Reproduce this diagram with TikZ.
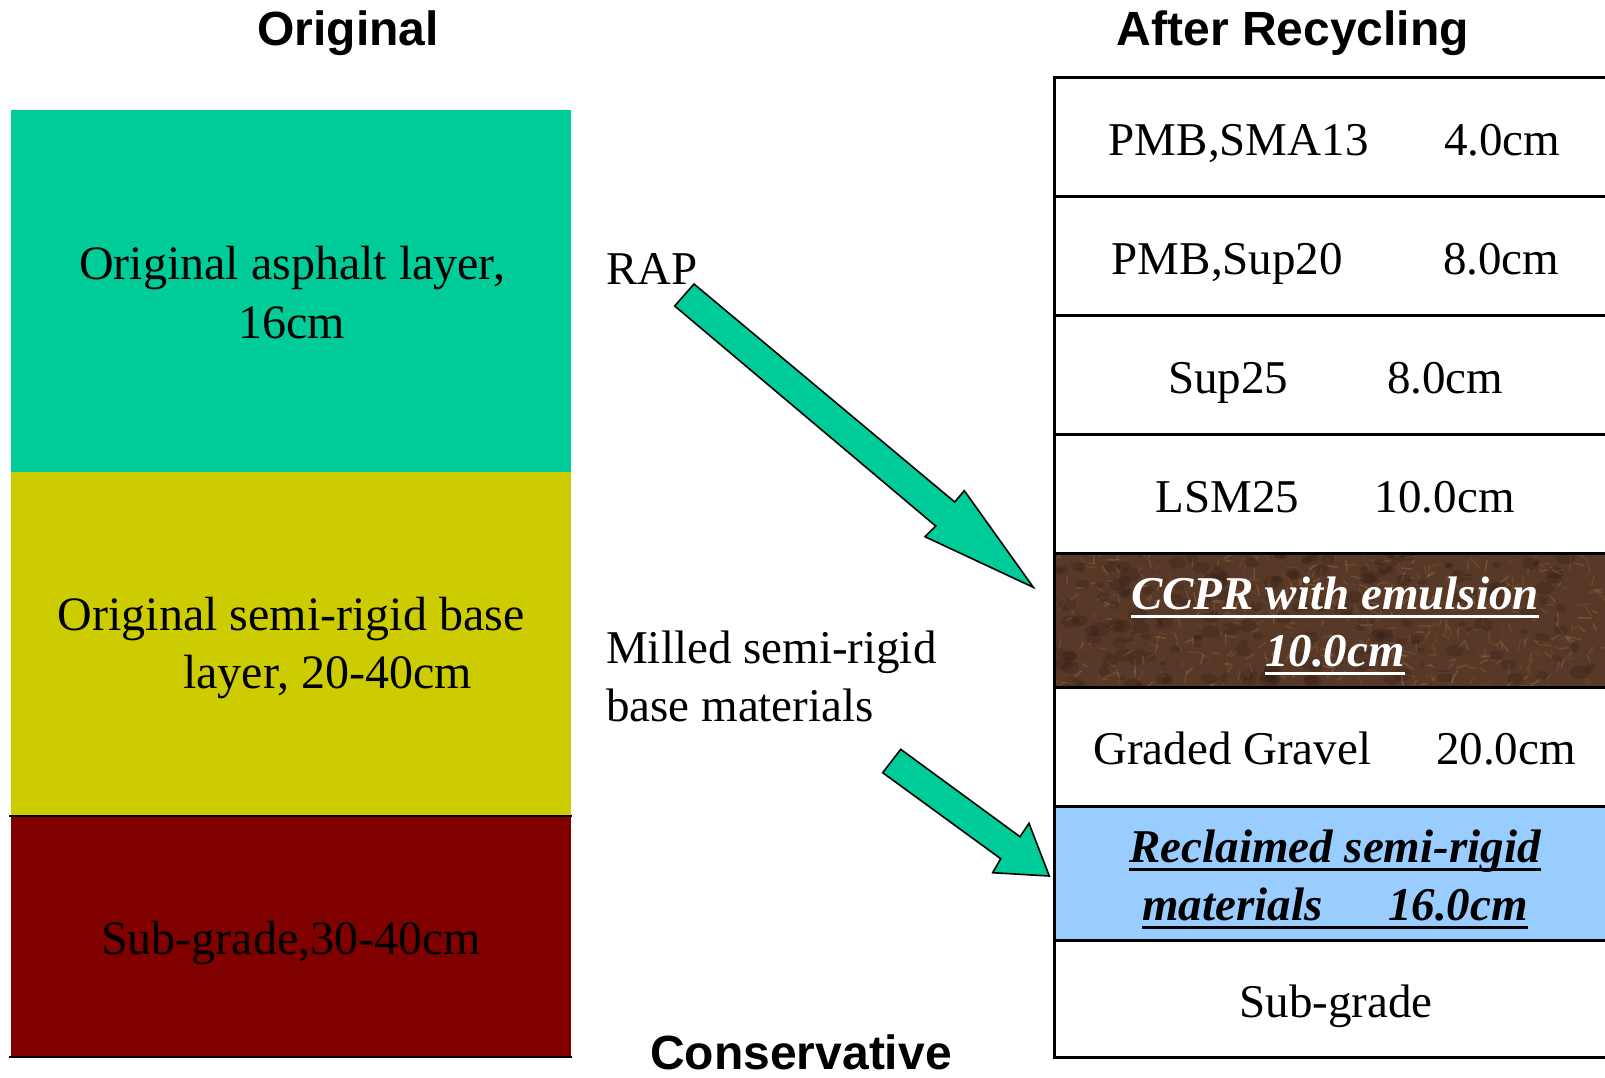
\documentclass[tikz,border=0pt]{standalone}
\usepackage{fontspec}
\setmainfont{Liberation Serif}
\newfontfamily\hdrfont{Liberation Sans}
\definecolor{tealc}{RGB}{0,204,153}
\definecolor{yelc}{RGB}{204,204,0}
\definecolor{marc}{RGB}{128,0,0}
\definecolor{bluec}{RGB}{153,204,255}
\definecolor{brownbase}{RGB}{88,56,38}
\definecolor{browntan}{RGB}{165,125,80}
\definecolor{browndark}{RGB}{50,30,22}
\newsavebox{\ulbox}
\newcommand{\myul}[1]{\sbox{\ulbox}{#1}\rlap{\raisebox{-9pt}{\rule{\wd\ulbox}{3pt}}}\usebox{\ulbox}}
\begin{document}
\begin{tikzpicture}[x=1pt,y=-1pt,
  txt/.style={inner sep=0pt,font=\fontsize{47}{57}\selectfont},
  ltxt/.style={inner sep=0pt,font=\fontsize{48}{57}\selectfont},
  hdr/.style={inner sep=0pt,font=\hdrfont\bfseries\fontsize{48}{57}\selectfont},
  rowline/.style={line width=3pt},
  bigarrow/.style={fill=tealc,draw=black,line width=1.6pt,line join=miter}]
\useasboundingbox (0,0) rectangle (1605,1077);
% ---------- headers ----------
\node[hdr,anchor=base] (h1) at (348,45) {Original};
\node[hdr,anchor=base] (h2) at (1293,45) {After Recycling};
\node[hdr,anchor=base] (h3) at (801,1069.5) {Conservative};
% ---------- left column ----------
\fill[tealc] (11,110) rectangle (571,472);
\fill[yelc] (11,472) rectangle (571,816);
\fill[marc] (11,816) rectangle (571,1057);
\draw[line width=2.5pt] (9,816) -- (572,816);
\draw[line width=2.5pt] (9,1057) -- (572,1057);
\node[ltxt,anchor=base] (l1a) at (292,279.5) {Original asphalt layer,};
\node[ltxt,anchor=base] (l1b) at (292,338) {16cm};
\node[ltxt,anchor=base] (l2a) at (291,630.5) {Original semi-rigid base};
\node[ltxt,anchor=base] (l2b) at (327.5,688) {layer, 20-40cm};
\node[ltxt,anchor=base] (l3) at (291,954) {Sub-grade,30-40cm};
% ---------- middle ----------
\node[txt,anchor=base west] (rap) at (606,284.6) {RAP};
\node[txt,anchor=base west] (mil1) at (606,663) {Milled semi-rigid};
\node[txt,anchor=base west] (mil2) at (606,721.6) {base materials};
% ---------- right column ----------
\begin{scope}
\clip (1054,553) rectangle (1605,687);
\fill[brownbase] (1054,553) rectangle (1605,687);
\pgfmathsetseed{11}
\foreach \i in {1,...,500}{
  \pgfmathsetmacro{\xx}{1054+551*rnd}
  \pgfmathsetmacro{\yy}{553+134*rnd}
  \pgfmathsetmacro{\ang}{360*rnd}
  \pgfmathsetmacro{\op}{0.12+0.25*rnd}
  \draw[browntan,opacity=\op,line width=1.5pt] (\xx,\yy) -- ++(\ang:{4+10*rnd});
}
\foreach \i in {1,...,220}{
  \pgfmathsetmacro{\xx}{1054+551*rnd}
  \pgfmathsetmacro{\yy}{553+134*rnd}
  \pgfmathsetmacro{\rr}{3+7*rnd}
  \fill[browndark,opacity=0.3] (\xx,\yy) ellipse ({\rr} and {0.7*\rr});
}
\end{scope}
\fill[bluec] (1054,806) rectangle (1605,940);
\draw[rowline] (1054,75.5) -- (1054,1058.5);
\foreach \yy in {77,196.5,315,434,553,687,806,940,1057}{
  \draw[rowline] (1052.5,\yy) -- (1605,\yy);
}
\node[txt,anchor=base west] (r1a) at (1108.6,155.6) {PMB,SMA13};
\node[txt,anchor=base west] (r1b) at (1444,155.6) {4.0cm};
\node[txt,anchor=base west] (r2a) at (1111.6,274) {PMB,Sup20};
\node[txt,anchor=base west] (r2b) at (1443,274) {8.0cm};
\node[txt,anchor=base west] (r3a) at (1168,393) {Sup25};
\node[txt,anchor=base west] (r3b) at (1387,393) {8.0cm};
\node[txt,anchor=base west] (r4a) at (1155.6,512) {LSM25};
\node[txt,anchor=base west] (r4b) at (1374.7,512) {10.0cm};
\node[txt,anchor=base,text=white] (r5a) at (1335,609) {\bfseries\itshape\myul{CCPR with emulsion}};
\node[txt,anchor=base,text=white] (r5b) at (1335,666) {\bfseries\itshape\myul{10.0cm}};
\node[txt,anchor=base west] (r6a) at (1093,764.6) {Graded Gravel};
\node[txt,anchor=base west] (r6b) at (1436,764.6) {20.0cm};
\node[txt,anchor=base] (r7a) at (1335,862) {\bfseries\itshape\myul{Reclaimed semi-rigid}};
\node[txt,anchor=base] (r7b) at (1335,920) {\bfseries\itshape\myul{materials\hspace{1.4em}16.0cm}};
\node[txt,anchor=base] (r8) at (1336,1017.5) {Sub-grade};
% ---------- block arrows ----------
\draw[bigarrow] (694,284) -- (674.7,306) -- (935.7,526) -- (925,536.7)
  -- (1033.3,587.3) -- (964.3,490.7) -- (954.7,502) -- cycle;
\draw[bigarrow] (900.7,749.3) -- (882.7,772.7) -- (1000.7,858.7) -- (992.7,872.7)
  -- (1049.3,876) -- (1029,823.3) -- (1020,836.7) -- cycle;
\end{tikzpicture}
\end{document}
